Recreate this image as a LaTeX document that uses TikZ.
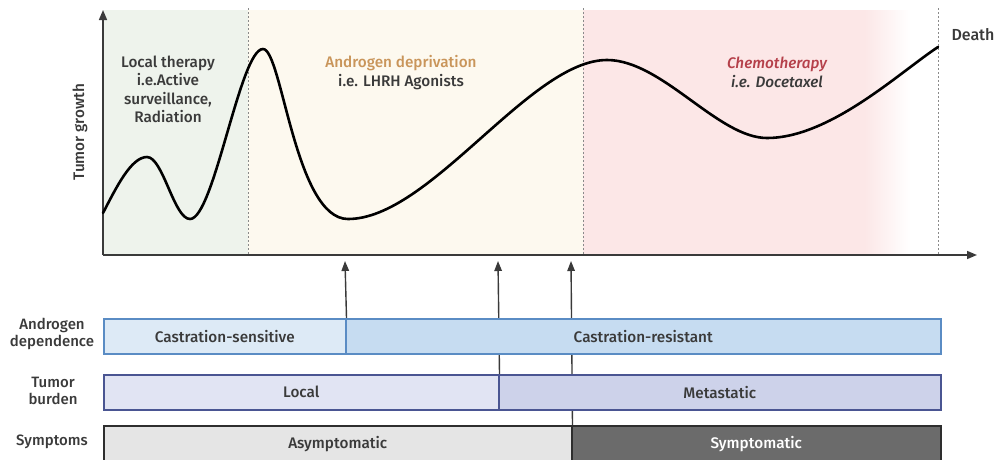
\documentclass[tikz,border=0pt]{standalone}
\usepackage{fontspec}
\setmainfont{Fira Sans}[BoldFont={Fira Sans Medium}, BoldItalicFont={Fira Sans Medium Italic}]
\usetikzlibrary{arrows.meta}
\definecolor{txt}{HTML}{3A3A3A}
\definecolor{greenbg}{HTML}{EEF3EC}
\definecolor{beigebg}{HTML}{FDF9EF}
\definecolor{pinkbg}{HTML}{FCE7E7}
\definecolor{dotc}{HTML}{8A8A8A}
\definecolor{adcol}{HTML}{C9955A}
\definecolor{chcol}{HTML}{B5404A}
\definecolor{b1l}{HTML}{DDEAF6}
\definecolor{b1r}{HTML}{C6DCF1}
\definecolor{b1d}{HTML}{5A8CC4}
\definecolor{b2l}{HTML}{E1E4F3}
\definecolor{b2r}{HTML}{CDD2EA}
\definecolor{b2d}{HTML}{4A5592}
\definecolor{b3l}{HTML}{E5E5E5}
\definecolor{b3r}{HTML}{6B6B6B}
\definecolor{b3d}{HTML}{2E2E2E}
\pgfdeclarelayer{bg}
\pgfsetlayers{bg,main}
\tikzset{
  txtfont/.style={font=\bfseries\fontsize{15.3}{18.5}\selectfont, text=txt},
  dotline/.style={dotc, line width=0.9pt, dash pattern=on 2pt off 2pt},
  axis/.style={txt, line width=1.6pt, -{Triangle[length=10pt,width=8pt]}},
  uparr/.style={txt, line width=1.4pt, -{Triangle[length=10pt,width=7.5pt]}},
  barbox/.style={draw, line width=1.5pt, minimum height=35pt, inner sep=0pt, anchor=north west, txtfont},
  rowlab/.style={align=center, text=txt, font=\bfseries\fontsize{15}{17}\selectfont},
}
\begin{document}
\begin{tikzpicture}[x=1pt,y=-1pt]
\useasboundingbox (0,0) rectangle (998,459);
\clip (0,0) rectangle (998,459);
% background regions
\fill[greenbg] (103,10) rectangle (248,255);
\fill[beigebg] (248,10) rectangle (583,255);
\fill[pinkbg] (583,10) rectangle (865,255);
\shade[left color=pinkbg, right color=white] (865,10) rectangle (910,255);
% dotted separators
\draw[dotline] (248,8) -- (248,255);
\draw[dotline] (583,8) -- (583,255);
\draw[dotline] (938,8) -- (938,255);
% axes
\coordinate (O) at (103,255);
\coordinate (ytip) at (103,10);
\coordinate (xtip) at (977,255);
\draw[axis] (O) -- (ytip);
\draw[axis] (O) -- (xtip);
% curve
\draw[black, line width=2.6pt, line join=round, line cap=round]
  (103,213) .. controls (116,188) and (131,157) .. (147,157)
  .. controls (163,157) and (174,219) .. (190,219)
  .. controls (214,219) and (240,49) .. (263,49)
  .. controls (282,49) and (295,219) .. (348,219)
  .. controls (430,219) and (530,60) .. (607,60)
  .. controls (662,60) and (718,138) .. (767,138)
  .. controls (830,138) and (900,72) .. (938,47);
% texts in chart
\node[rotate=90, text=txt, font=\bfseries\fontsize{15.3}{17}\selectfont] (yl) at (80,132) {Tumor growth};
\node[align=center, txtfont] (lt) at (168,89.5) {Local therapy\\i.e.Active\\surveillance,\\Radiation};
\node[align=center, txtfont] (ad) at (401,72.5) {\textcolor{adcol}{Androgen deprivation}\\i.e. LHRH Agonists};
\node[align=center, txtfont, font=\bfseries\itshape\fontsize{15.3}{18.5}\selectfont] (ch) at (777,72.5) {\textcolor{chcol}{Chemotherapy}\\i.e. Docetaxel};
\node[text=txt, font=\bfseries\fontsize{16}{18}\selectfont] (death) at (973,35) {Death};
% row labels
\node[rowlab] (l1) at (52,334) {Androgen\\dependence};
\node[rowlab] (l2) at (53,391) {Tumor\\burden};
\node[rowlab] (l3) at (52,442) {Symptoms};
% bars
\node[barbox, draw=b1d, fill=b1l, minimum width=242pt] (cs) at (103,318) {Castration-sensitive};
\node[barbox, draw=b1d, fill=b1r, minimum width=595pt] (cr) at (345,318) {Castration-resistant};
\node[barbox, draw=b2d, fill=b2l, minimum width=395pt] (lo) at (103,374) {Local};
\node[barbox, draw=b2d, fill=b2r, minimum width=442pt] (me) at (498,374) {Metastatic};
\node[barbox, draw=b3d, fill=b3l, minimum width=468pt, minimum height=37pt] (as) at (103,425) {Asymptomatic};
\node[barbox, draw=b3d, fill=b3r, minimum width=369pt, minimum height=37pt, text=white] (sy) at (571,425) {Symptomatic};
% upward arrows
\coordinate (t1) at (345,261);
\coordinate (t2) at (498,261);
\coordinate (t3) at (571,261);
\begin{pgfonlayer}{bg}
\draw[uparr] (cs.north east) -- (t1);
\draw[uparr] (lo.north east) -- (t2);
\draw[uparr] (as.north east) -- (t3);
\end{pgfonlayer}
\end{tikzpicture}
\end{document}
